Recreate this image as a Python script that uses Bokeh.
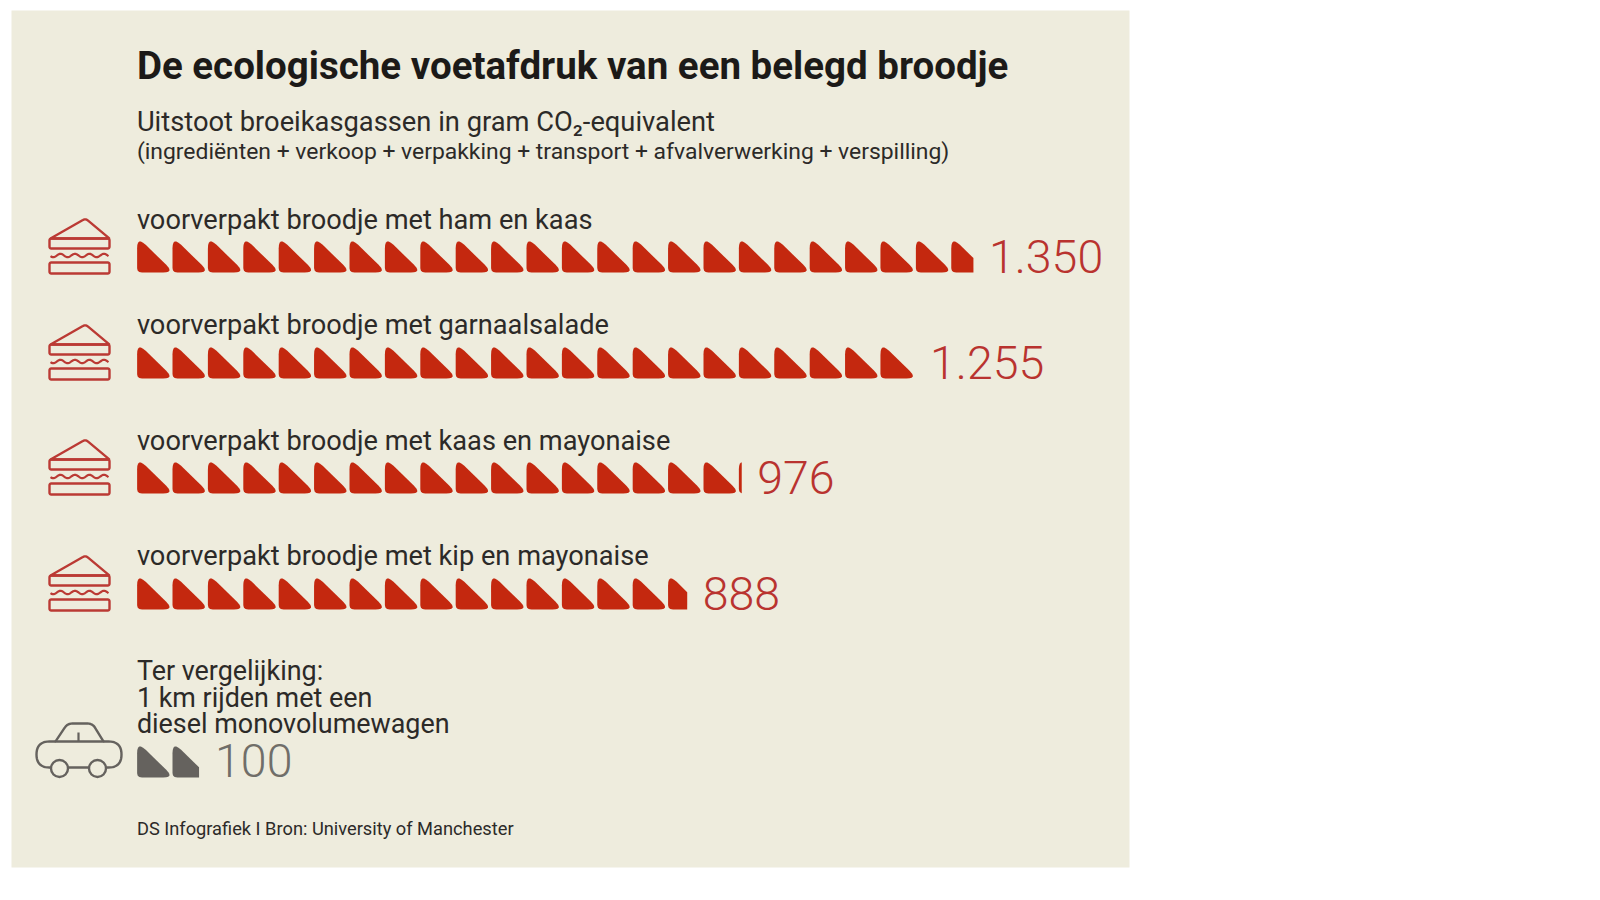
import numpy as np
from bokeh.embed import file_html
from bokeh.resources import INLINE
from bokeh.plotting import figure
from bokeh.models import Range1d
from bokeh.core.properties import value

labels = ["voorverpakt broodje met ham en kaas", "voorverpakt broodje met garnaalsalade",
          "voorverpakt broodje met kaas en mayonaise", "voorverpakt broodje met kip en mayonaise"]
values = [1350, 1255, 976, 888]
value_labels = ["1.350", "1.255", "976", "888"]
car_value = 100
car_value_label = "100"
car_lines = ["Ter vergelijking:", "1 km rijden met een", "diesel monovolumewagen"]
title = "De ecologische voetafdruk van een belegd broodje"
sub1 = "Uitstoot broeikasgassen in gram CO₂-equivalent"
sub2 = "(ingrediënten + verkoop + verpakking + transport + afvalverwerking + verspilling)"
source_note = "DS Infografiek I Bron: University of Manchester"
grams_per_wedge = 57.14

FONT = "Roboto"
THIN = "Roboto Light"
RED, NUMRED, LINERED = "#c4280f", "#b9332f", "#bb3a34"
GREY, NUMGREY = "#65625e", "#706e69"
INK = "#2c2a28"
BG = "#eeecdd"

PX_PER_G = 0.6195
X0 = 136.6
TX = 136.4
ROW_TOP = [241, 347, 462, 578]
ROW_LABEL_BASE = [227.5, 333, 449, 563.5]
CAR_TOP = 746
WEDGE_H, WEDGE_W = 31.0, 32.0
BASE_K = 0.3

p = figure(width=1584, height=884, output_backend="svg", toolbar_location=None,
           x_range=Range1d((0 - X0) / PX_PER_G, (1584 - X0) / PX_PER_G), y_range=Range1d(884, 0),
           min_border=0, min_border_left=0, min_border_right=0, min_border_top=0, min_border_bottom=0)
p.extra_x_ranges["px"] = Range1d(0, 1584)
p.axis.visible = False
p.grid.visible = False
p.outline_line_color = None
p.background_fill_color = "white"
p.border_fill_color = "white"

def rounded(pts, radii, n=7):
    out = []
    m = len(pts)
    for i, c in enumerate(pts):
        c = np.array(c, float)
        a, b = np.array(pts[i - 1], float), np.array(pts[(i + 1) % m], float)
        r = radii[i]
        s = c + (a - c) / np.linalg.norm(a - c) * r
        e = c + (b - c) / np.linalg.norm(b - c) * r
        for t in np.linspace(0, 1, n):
            out.append((1 - t) ** 2 * s + 2 * t * (1 - t) * c + t ** 2 * e)
    return np.array(out)

def clip_right(poly, xmax):
    out = []
    for i in range(len(poly)):
        a, b = poly[i - 1], poly[i]
        ain, bin_ = a[0] <= xmax, b[0] <= xmax
        if ain != bin_:
            t = (xmax - a[0]) / (b[0] - a[0])
            out.append(a + (b - a) * t)
        if bin_:
            out.append(b)
    return np.array(out)

WEDGE = rounded([(0, -5), (WEDGE_W + 5, WEDGE_H), (0, WEDGE_H)], [12, 11, 5])

def wedges(val, top, color):
    xs, ys = [], []
    n = int(np.ceil(val / grams_per_wedge))
    for i in range(n):
        poly = WEDGE.copy()
        poly[:, 0] = poly[:, 0] / PX_PER_G + i * grams_per_wedge
        poly[:, 1] += top
        poly = clip_right(poly, val)
        if len(poly):
            xs.append(poly[:, 0].tolist())
            ys.append(poly[:, 1].tolist())
    p.patches(xs, ys, fill_color=color, line_color=None)

def txt(x, y, s, size, color=INK, font=FONT, style="normal"):
    p.text([x], [y - BASE_K * size], text=[s], text_font=value(font), text_font_size=f"{size}px", text_color=color,
           text_font_style=style, text_baseline="alphabetic", text_align="left", x_range_name="px")

def val_txt(v, y, s, color, size, off):
    p.text([v], [y - BASE_K * size], text=[s], text_font=value(THIN), text_font_size=f"{size}px", text_color=color,
           text_baseline="alphabetic", text_align="left", x_offset=off)

def closed(arr, color, width=2.4):
    a = np.vstack([arr, arr[:1]])
    p.line(a[:, 0], a[:, 1], line_color=color, line_width=width, x_range_name="px")

def sandwich(top):
    dy = top - 241
    tri = rounded([(85, 218 + dy), (109, 238 + dy), (50, 238 + dy)], [3, 1, 1])
    closed(tri, LINERED)
    closed(rounded([(49, 238 + dy), (109, 238 + dy), (109, 248 + dy), (49, 248 + dy)], [2, 2, 2, 2]), LINERED)
    wx = np.linspace(50, 108, 90)
    p.line(wx, 255 + dy + 1.7 * np.sin((wx - 50) / 58 * 2 * np.pi * 4 + 0.4), line_color=LINERED, line_width=2.2, x_range_name="px")
    closed(rounded([(49, 262 + dy), (109, 262 + dy), (109, 273 + dy), (49, 273 + dy)], [2, 2, 2, 2]), LINERED)

p.quad(left=[11], right=[1129], top=[10], bottom=[867], fill_color=BG, line_color=None, x_range_name="px")

txt(TX, 76.5, title, 38.5, "#1c1a18", style="bold")
txt(TX, 129.5, sub1, 27.3)
txt(TX, 158, sub2, 22.9)

for lab, v, vl, t, b in zip(labels, values, value_labels, ROW_TOP, ROW_LABEL_BASE):
    txt(TX, b, lab, 27.2)
    wedges(v, t, RED)
    val_txt(v, t + 28.5, vl, NUMRED, 46.5, 15.5)
    sandwich(t)

for s, b in zip(car_lines, [678.5, 705.3, 731.3]):
    txt(TX, b, s, 26.9)
wedges(car_value, CAR_TOP, GREY)
val_txt(car_value, CAR_TOP + 27.5, car_value_label, NUMGREY, 46.5, 16)

# car icon
body = rounded([(36, 741), (121, 741), (121, 767), (36, 767)], [13, 13, 13, 13], n=12)
closed(body, GREY, 2.4)
roof = rounded([(55, 741), (67, 723), (92, 723), (103, 741)], [0.1, 5, 5, 0.1])
p.line(roof[:, 0], roof[:, 1], line_color=GREY, line_width=2.4, x_range_name="px")
p.line([78, 78], [732, 741], line_color=GREY, line_width=2.2, x_range_name="px")
p.scatter([59, 97], [768, 768], size=17, fill_color=BG, line_color=GREY, line_width=2.4, x_range_name="px")

txt(TX, 833.5, source_note, 18.25)

open("out.html", "w").write(file_html(p, INLINE))
